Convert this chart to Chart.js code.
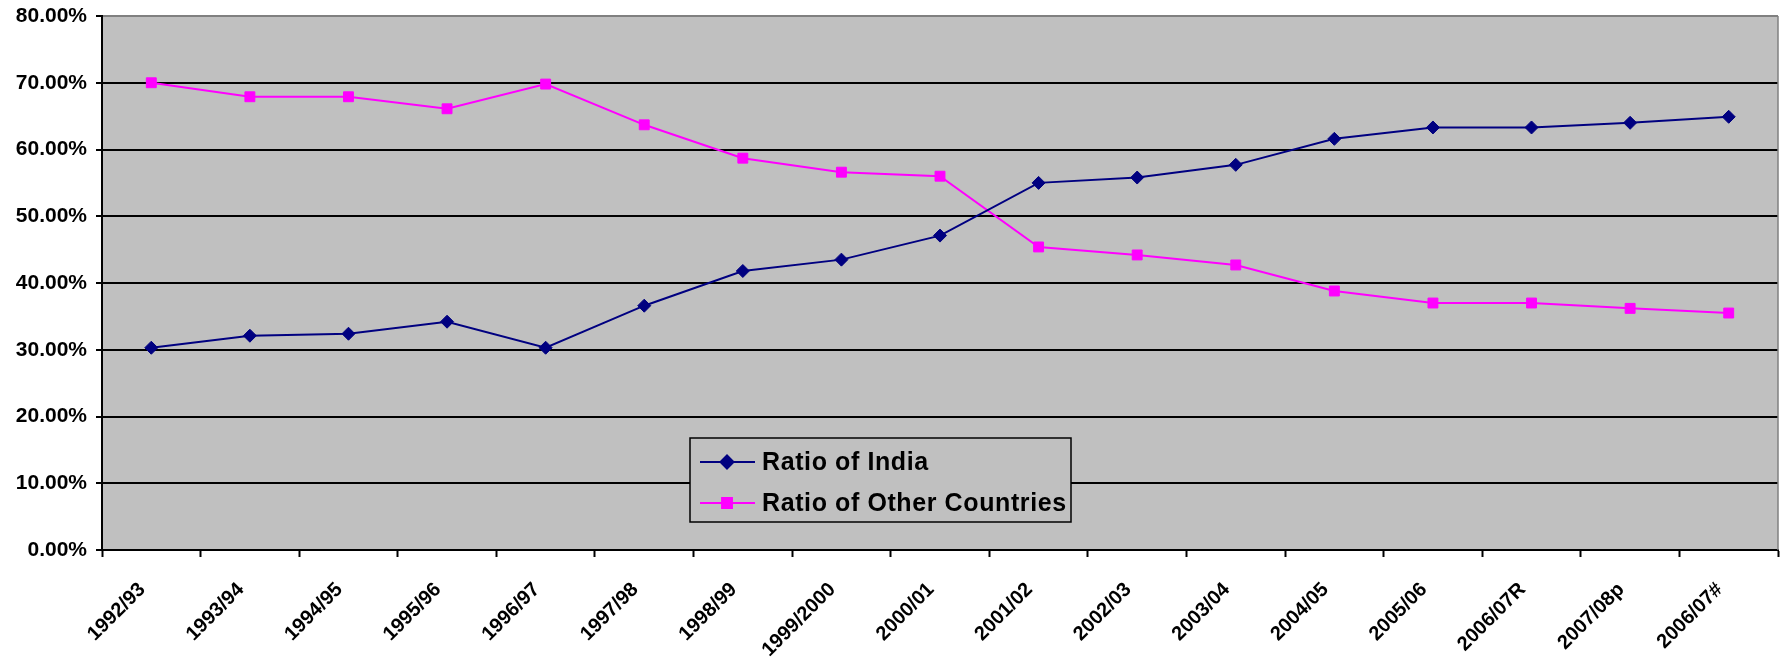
<!DOCTYPE html>
<html>
<head>
<meta charset="utf-8">
<script src="https://cdn.jsdelivr.net/npm/chart.js@4/dist/chart.umd.min.js"></script>
<style>
  html, body { margin: 0; padding: 0; background: #ffffff; }
  #wrap { width: 1792px; height: 662px; }
</style>
</head>
<body>
<div id="wrap"><canvas id="chart" width="1792" height="662"></canvas></div>
<script>
// Fiscal years on the category axis
const years = [
  '1992/93', '1993/94', '1994/95', '1995/96', '1996/97', '1997/98', '1998/99',
  '1999/2000', '2000/01', '2001/02', '2002/03', '2003/04', '2004/05', '2005/06',
  '2006/07R', '2007/08p', '2006/07#'
];

// Share of India (%)
const indiaRatio = [
  30.3, 32.1, 32.4, 34.2, 30.3, 36.6, 41.8, 43.5, 47.1,
  55.0, 55.8, 57.7, 61.6, 63.3, 63.3, 64.0, 64.9
];

// Share of other countries (%)
const otherRatio = [
  70.0, 67.9, 67.9, 66.1, 69.8, 63.7, 58.7, 56.6, 56.0,
  45.4, 44.2, 42.7, 38.8, 37.0, 37.0, 36.2, 35.5
];

// Value axis range and step (%)
const yMin = 0;
const yMax = 80;
const yStep = 10;

const FONT = '"Liberation Sans", Arial, sans-serif';

// Grey plotting area behind the series
const plotBackground = {
  id: 'plotBackground',
  beforeDraw(chart) {
    const { ctx, chartArea: a } = chart;
    ctx.save();
    ctx.fillStyle = '#C0C0C0';
    ctx.fillRect(a.left, a.top, a.right - a.left, a.bottom - a.top);
    ctx.restore();
  }
};

// Thin grey frame on the right side of the plot
const plotFrame = {
  id: 'plotFrame',
  beforeDatasetsDraw(chart) {
    const { ctx, chartArea: a } = chart;
    ctx.save();
    ctx.strokeStyle = '#808080';
    ctx.lineWidth = 1.5;
    ctx.beginPath();
    ctx.moveTo(a.right, a.top);
    ctx.lineTo(a.right, a.bottom);
    ctx.stroke();
    ctx.restore();
  }
};

// Boxed legend placed inside the plot area
const boxedLegend = {
  id: 'boxedLegend',
  afterDraw(chart) {
    const { ctx } = chart;
    const box = { x: 690, y: 438, w: 381, h: 84 };
    ctx.save();
    ctx.fillStyle = '#C0C0C0';
    ctx.fillRect(box.x, box.y, box.w, box.h);
    ctx.strokeStyle = '#000000';
    ctx.lineWidth = 1.5;
    ctx.strokeRect(box.x, box.y, box.w, box.h);

    const rows = [box.y + 24, box.y + 65];
    chart.data.datasets.forEach((ds, i) => {
      const y = rows[i];
      ctx.strokeStyle = ds.borderColor;
      ctx.lineWidth = ds.borderWidth;
      ctx.beginPath();
      ctx.moveTo(box.x + 10, y);
      ctx.lineTo(box.x + 65, y);
      ctx.stroke();
      ctx.fillStyle = ds.pointBackgroundColor;
      ctx.strokeStyle = ds.pointBorderColor;
      Chart.helpers.drawPoint(ctx, {
        pointStyle: ds.pointStyle,
        radius: ds.pointRadius,
        rotation: 0,
        borderWidth: 1
      }, box.x + 37, y);
      ctx.fillStyle = '#000000';
      ctx.font = 'bold 25px ' + FONT;
      if ('letterSpacing' in ctx) ctx.letterSpacing = '0.6px';
      ctx.textBaseline = 'middle';
      ctx.textAlign = 'left';
      ctx.fillText(ds.label, box.x + 72, y + 1);
    });
    ctx.restore();
  }
};

new Chart(document.getElementById('chart'), {
  type: 'line',
  data: {
    labels: years,
    datasets: [
      {
        label: 'Ratio of India',
        data: indiaRatio,
        borderColor: '#000080',
        backgroundColor: '#000080',
        borderWidth: 2,
        pointStyle: 'rectRot',
        pointRadius: 6.5,
        pointBackgroundColor: '#000080',
        pointBorderColor: '#000080',
        pointBorderWidth: 1,
        tension: 0
      },
      {
        label: 'Ratio of Other Countries',
        data: otherRatio,
        borderColor: '#FF00FF',
        backgroundColor: '#FF00FF',
        borderWidth: 2,
        pointStyle: 'rect',
        pointRadius: 7,
        pointBackgroundColor: '#FF00FF',
        pointBorderColor: '#FF00FF',
        pointBorderWidth: 1,
        tension: 0
      }
    ]
  },
  options: {
    responsive: false,
    animation: false,
    layout: { padding: { left: 0, right: 14, top: 16, bottom: 0 } },
    plugins: {
      legend: { display: false },
      tooltip: { enabled: false }
    },
    scales: {
      x: {
        type: 'category',
        offset: true,
        grid: {
          offset: true,
          drawOnChartArea: false,
          drawTicks: true,
          tickLength: 7,
          tickWidth: 2,
          tickColor: '#000000'
        },
        border: { display: true, color: '#000000', width: 2 },
        ticks: {
          autoSkip: false,
          minRotation: 45,
          maxRotation: 45,
          padding: 21,
          labelOffset: -9,
          color: '#000000',
          font: { family: FONT, size: 20, weight: 'bold' }
        },
        afterFit(scale) {
          scale.height = 112;
          scale.paddingLeft = 0;
          scale.paddingRight = 0;
        }
      },
      y: {
        min: yMin,
        max: yMax,
        grid: {
          color: (c) => (c.tick && c.tick.value === yMax ? '#808080' : '#000000'),
          lineWidth: 2,
          drawTicks: true,
          tickLength: 6,
          tickColor: '#000000'
        },
        border: { display: true, color: '#000000', width: 2 },
        ticks: {
          stepSize: yStep,
          padding: 9,
          color: '#000000',
          font: { family: FONT, size: 21, weight: 'bold' },
          callback: (v) => Number(v).toFixed(2) + '%'
        },
        afterFit(scale) {
          scale.width = 102;
          scale.paddingTop = 0;
          scale.paddingBottom = 0;
        }
      }
    }
  },
  plugins: [plotBackground, plotFrame, boxedLegend]
});
</script>
</body>
</html>
